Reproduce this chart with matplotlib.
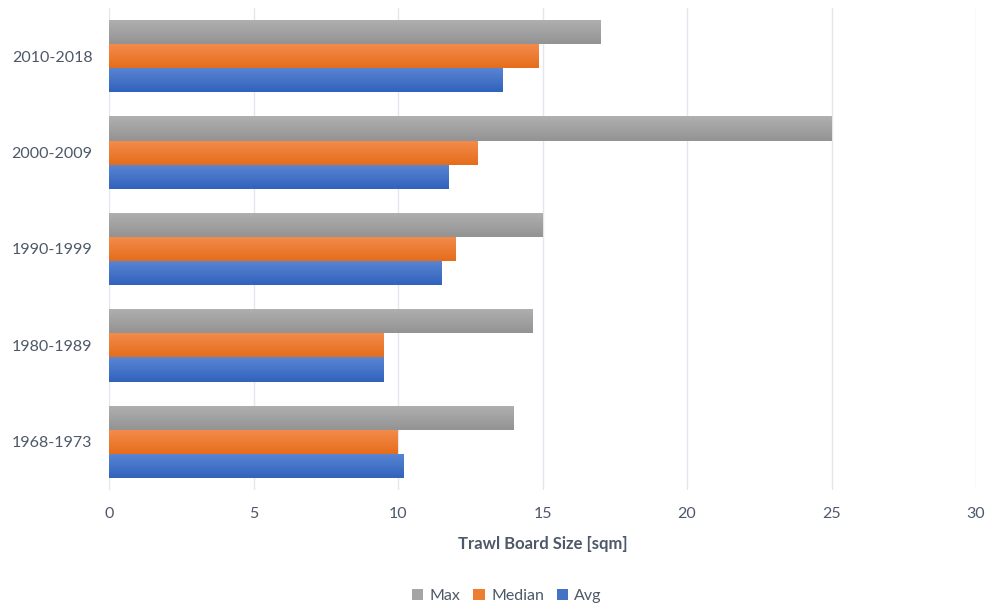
import numpy as np
import matplotlib
matplotlib.use("Agg")
import matplotlib.pyplot as plt
from matplotlib.colors import LinearSegmentedColormap
from matplotlib.patches import Patch

plt.rcParams['font.family'] = ['Lato', 'DejaVu Sans']

periods = ["1968-1973", "1980-1989", "1990-1999", "2000-2009", "2010-2018"]
avg_vals = [10.2, 9.5, 11.5, 11.75, 13.6]
median_vals = [10.0, 9.5, 12.0, 12.75, 14.85]
max_vals = [14.0, 14.65, 15.0, 25.0, 17.0]

series = [
    ("Avg", avg_vals, "#4472C4", ("#5A86D3", "#3162BC")),
    ("Median", median_vals, "#ED7D31", ("#F48C4D", "#E56D1B")),
    ("Max", max_vals, "#A5A5A5", ("#B0B0B0", "#939393")),
]

text_color = "#4D5868"

fig = plt.figure(figsize=(9.91, 6.08), dpi=100)
ax = fig.add_axes([109 / 991, 118 / 608, (976 - 109) / 991, (600 - 118) / 608])

y = np.arange(len(periods))
h = 0.25
offsets = [-h, 0, h]

for (name, vals, base, (top_c, bot_c)), off in zip(series, offsets):
    bars = ax.barh(y + off, vals, height=h, color=base, edgecolor="none", zorder=2)
    cmap = LinearSegmentedColormap.from_list(name, [bot_c, top_c])
    grad = np.linspace(0, 1, 64).reshape(-1, 1)
    for b in bars:
        x0, y0 = b.get_x(), b.get_y()
        w, hh = b.get_width(), b.get_height()
        im = ax.imshow(grad, cmap=cmap, aspect="auto", origin="lower",
                       extent=[x0, x0 + w, y0, y0 + hh], zorder=3,
                       interpolation="bilinear")
        im.set_clip_path(b)

ax.set_xlim(0, 30)
ax.set_ylim(-0.5, 4.5)
ax.set_xticks(np.arange(0, 31, 5))
ax.set_yticks(y)
ax.set_yticklabels(periods)
ax.grid(axis="x", color="#E3E6EC", linewidth=1.0, zorder=0)
ax.set_axisbelow(True)
for s in ax.spines.values():
    s.set_visible(False)
ax.tick_params(axis="both", length=0, labelsize=11.5, colors=text_color)
ax.tick_params(axis="x", pad=12)
ax.tick_params(axis="y", pad=12)

ax.set_xlabel("Trawl Board Size [sqm]", fontsize=12, fontweight="bold",
              color=text_color, labelpad=11)

handles = [Patch(facecolor="#A5A5A5", label="Max"),
           Patch(facecolor="#ED7D31", label="Median"),
           Patch(facecolor="#4472C4", label="Avg")]
fig.legend(handles=handles, loc="center", bbox_to_anchor=(507 / 991, 1 - 596 / 608),
           ncol=3, frameon=False, fontsize=11.5, labelcolor=text_color,
           handlelength=0.7, handleheight=0.7, handletextpad=0.4, columnspacing=0.8)

fig.savefig("out.png", dpi=100, facecolor="white")
